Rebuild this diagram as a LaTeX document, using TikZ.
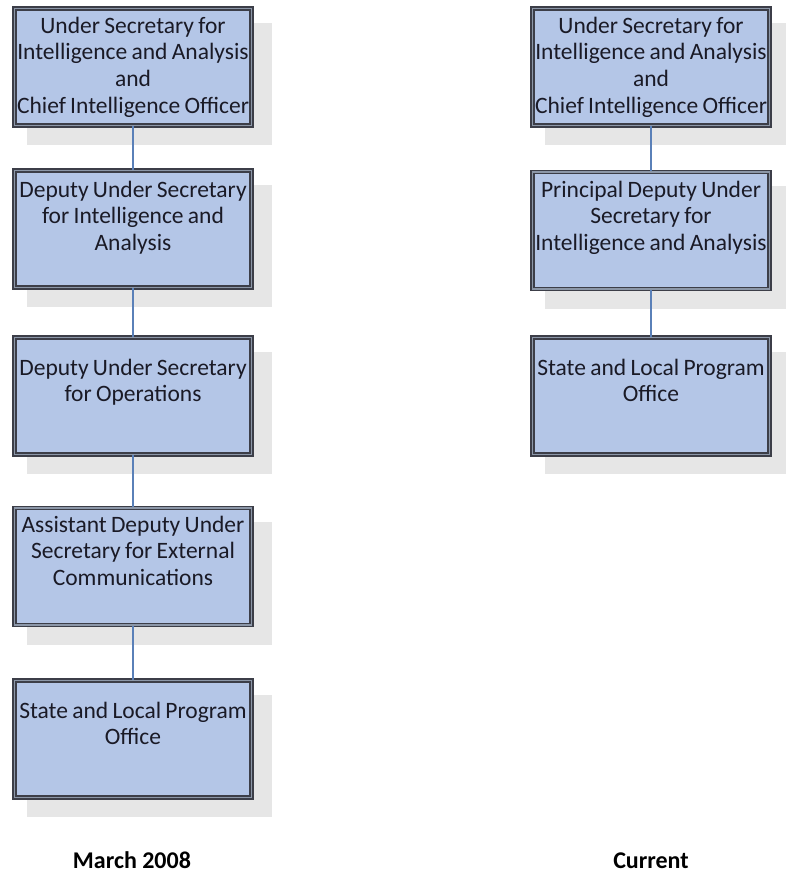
\documentclass[tikz,border=0pt]{standalone}
\usepackage{fontspec}
\setmainfont{Carlito}
\usetikzlibrary{backgrounds}
\definecolor{boxfill}{HTML}{B4C6E7}
\definecolor{boxedge}{HTML}{3C3E48}
\definecolor{boxmid}{HTML}{8C97A8}
\definecolor{shadowgray}{HTML}{E6E6E6}
\definecolor{connblue}{HTML}{5A80B8}
\definecolor{txtcol}{HTML}{1A1A26}
\tikzset{
  orgbox/.style={draw=boxedge, double=boxmid, double distance=1.6pt, line width=1.3pt,
    fill=boxfill, minimum width=237pt, minimum height=117pt, inner sep=0pt},
  boxtext/.style={text width=240pt, align=center, anchor=base, inner sep=0pt,
    font=\fontsize{23.5}{26.7}\selectfont, text=txtcol,
    execute at begin node={\spaceskip=4.3pt\relax}},
  conn/.style={draw=connblue, line width=1.4pt},
  caption/.style={font=\fontsize{24}{28}\selectfont\bfseries, text=black, anchor=base, inner sep=0pt}
}
\newcommand{\boxshadow}[1]{%
  \begin{pgfonlayer}{background}
    \fill[shadowgray] ([shift={(13,15)}]#1.north west) rectangle ([shift={(20,19)}]#1.south east);
  \end{pgfonlayer}}
\begin{document}
\begin{tikzpicture}[x=1pt,y=-1pt]
\useasboundingbox (0,0) rectangle (785,876);
% left column
\node[orgbox] (l1) at (133,67) {};
\node[orgbox] (l2) at (133,229) {};
\node[orgbox] (l3) at (133,396) {};
\node[orgbox] (l4) at (133,566.5) {};
\node[orgbox] (l5) at (133,739) {};
% right column
\node[orgbox] (r1) at (651,67) {};
\node[orgbox] (r2) at (651,230.5) {};
\node[orgbox] (r3) at (651,396) {};
\boxshadow{l1}\boxshadow{l2}\boxshadow{l3}\boxshadow{l4}\boxshadow{l5}
\boxshadow{r1}\boxshadow{r2}\boxshadow{r3}
% connectors
\draw[conn] (l1) -- (l2);
\draw[conn] (l2) -- (l3);
\draw[conn] (l3) -- (l4);
\draw[conn] (l4) -- (l5);
\draw[conn] (r1) -- (r2);
\draw[conn] (r2) -- (r3);
% texts
\node[boxtext] (tl1) at (133,33) {Under Secretary for\\Intelligence and Analysis\\and\\Chief Intelligence Officer};
\node[boxtext] (tl2) at (133,197) {Deputy Under Secretary\\for Intelligence and\\Analysis};
\node[boxtext] (tl3) at (133,375) {Deputy Under Secretary\\for Operations};
\node[boxtext] (tl4) at (133,532) {Assistant Deputy Under\\Secretary for External\\Communications};
\node[boxtext] (tl5) at (133,718) {State and Local Program\\Office};
\node[boxtext] (tr1) at (651,33) {Under Secretary for\\Intelligence and Analysis\\and\\Chief Intelligence Officer};
\node[boxtext] (tr2) at (651,197) {Principal Deputy Under\\Secretary for\\Intelligence and Analysis};
\node[boxtext] (tr3) at (651,375) {State and Local Program\\Office};
% captions
\node[caption] (cap1) at (132,868) {March 2008};
\node[caption] (cap2) at (651,868) {Current};
\end{tikzpicture}
\end{document}
